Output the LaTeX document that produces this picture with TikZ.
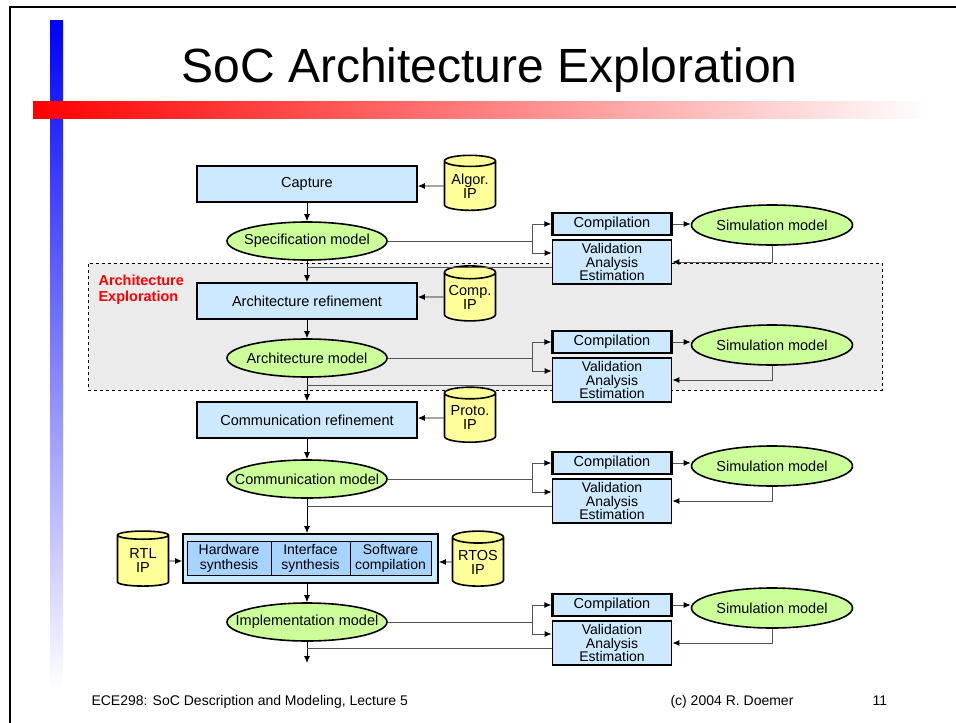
\documentclass[tikz,border=0pt]{standalone}
\usepackage{fontspec}
\setmainfont{Liberation Sans}
\usetikzlibrary{shapes.geometric, arrows.meta}

\definecolor{boxblue}{HTML}{CCE9FF}
\definecolor{unitblue}{HTML}{A6D3FF}
\definecolor{modelgreen}{HTML}{CCFF99}
\definecolor{ipyellow}{HTML}{FFFF99}
\definecolor{wiregray}{HTML}{555555}
\definecolor{regiongray}{HTML}{EBEBEB}

\newcommand{\nowidth}[1]{\makebox[0pt]{#1}}

\tikzset{
  refine/.style={rectangle, draw, line width=1.6, fill=boxblue, minimum width=220, minimum height=36, inner sep=0},
  model/.style={ellipse, draw, line width=1.6, fill=modelgreen, minimum width=160, minimum height=38, inner sep=0},
  ip/.style={cylinder, shape border rotate=90, aspect=0.3, draw, line width=1.6, fill=ipyellow, minimum width=51, minimum height=55, inner sep=0, align=center, font=\fontsize{14.5}{14}\selectfont},
  compile/.style={rectangle, draw, line width=2.4, fill=boxblue, minimum width=119, minimum height=22, inner sep=0},
  validate/.style={rectangle, draw, line width=1.8, fill=boxblue, minimum width=119, minimum height=44, inner sep=0, align=center, font=\fontsize{14}{13.5}\selectfont},
  synth/.style={rectangle, draw, line width=1.8, fill=boxblue, minimum width=255, minimum height=49},
  unit/.style={rectangle, draw, line width=0.8, fill=unitblue, minimum height=34, inner sep=0, align=center, font=\fontsize{14}{15}\selectfont},
  region/.style={rectangle, draw, dashed, line width=0.9, fill=regiongray, minimum width=794, minimum height=127},
  wire/.style={draw=wiregray, line width=0.9},
  flow/.style={->, line width=0.9},
  footline/.style={anchor=base west, font=\fontsize{14}{16}\selectfont}
}

\begin{document}
\begin{tikzpicture}[x=1pt, y=-1pt, >={Latex[length=7pt,width=6pt,color=black]}, font=\fontsize{14.5}{16}\selectfont]
\useasboundingbox (0,0) rectangle (956,723);
\shade[top color=blue, bottom color=white] (50,20) rectangle (63,690);
\shade[left color=red, right color=white] (33,101) rectangle (930,118);
\draw[line width=2] (10,723) -- (10,7) -- (956,7);
\node[anchor=base, font=\fontsize{48}{50}\selectfont] (title) at (489.5,82) {SoC Architecture Exploration};

\node[region] (explore) at (485,326.5) {};
\node[anchor=north west, align=left, text=red, font=\fontsize{14.5}{16}\selectfont\bfseries] (exploretag) at (95,271) {Architecture\\Exploration};

\node[refine] (capture) at (307,184) {Capture};
\node[ip] (algorip) at (470,186) {Algor.\\IP};
\node[model] (spec) at (307,241) {\nowidth{Specification model}};
\node[refine] (archref) at (307,301) {Architecture refinement};
\node[ip] (compip) at (470,297) {Comp.\\IP};
\node[model] (arch) at (307,358) {\nowidth{Architecture model}};
\node[refine] (commref) at (307,420) {Communication refinement};
\node[ip] (protoip) at (470,418) {Proto.\\IP};
\node[model] (comm) at (307,479) {\nowidth{Communication model}};
\node[synth] (synth) at (310.5,558.5) {};
\node[unit, minimum width=84] (hw) at (229,558) {Hardware\\synthesis};
\node[unit, minimum width=79] (intf) at (310.5,558) {Interface\\synthesis};
\node[unit, minimum width=81] (sw) at (390.5,558) {Software\\compilation};
\node[ip] (rtlip) at (143,561) {RTL\\IP};
\node[ip] (rtosip) at (478,562) {RTOS\\IP};
\node[model] (impl) at (307,622) {\nowidth{Implementation model}};
\coordinate (out) at (307,663);

\path[flow]
  (algorip) edge (algorip -| capture.east)
  (capture) edge (spec)
  (spec) edge (archref)
  (compip) edge (compip -| archref.east)
  (archref) edge (arch)
  (arch) edge (commref)
  (protoip) edge (protoip -| commref.east)
  (commref) edge (comm)
  (comm) edge (comm |- synth.north)
  (rtlip) edge (rtlip -| synth.west)
  (rtosip) edge (rtosip -| synth.east)
  (impl |- synth.south) edge (impl)
  (impl) edge (out);

\foreach \i/\m/\yc/\yv/\ys in {1/spec/224/262/225, 2/arch/342/380/345, 3/comm/463/501/466, 4/impl/605/643/608}{
  \node[compile] (comp\i) at (612,\yc) {Compilation};
  \node[validate] (val\i) at (612,\yv) {Validation\\Analysis\\Estimation};
  \node[model, minimum width=161, minimum height=40] (sim\i) at (772,\ys) {\nowidth{Simulation model}};
  \coordinate (fork\i) at (532,\yc);
  \coordinate (back\i) at ([yshift=-5]val\i.west);
  \draw[wire] (\m.east) -| (fork\i);
  \draw[wire, ->] (fork\i) -- (comp\i.west);
  \draw[wire, ->] (fork\i) |- ([yshift=9]val\i.west);
  \draw[wire, ->] (comp\i.east) -- (comp\i.east -| sim\i.west);
  \draw[wire, ->] (sim\i.south) |- (val\i.east);
  \draw[wire] (back\i) -- (back\i -| \m.south);
}

\node[footline] (course) at (88,705) {ECE298: SoC Description and Modeling, Lecture 5};
\node[footline] (credit) at (667,705) {(c) 2004 R. Doemer};
\node[footline] (pageno) at (869,705) {11};
\end{tikzpicture}
\end{document}
